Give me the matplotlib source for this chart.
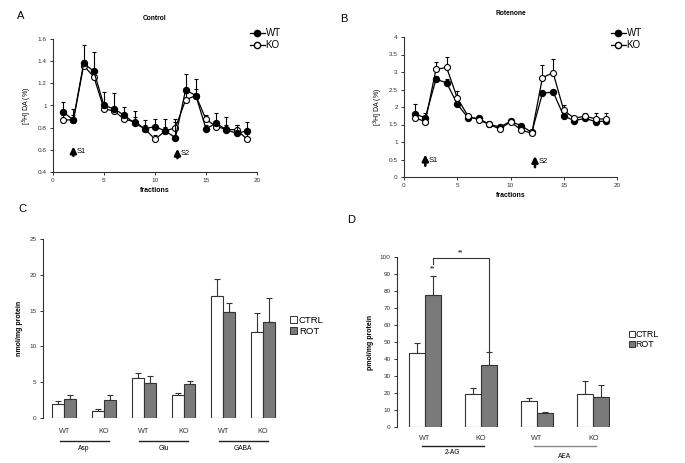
import numpy as np
import matplotlib
matplotlib.use("Agg")
import matplotlib.pyplot as plt
from matplotlib.lines import Line2D
from matplotlib.patches import Patch
import matplotlib.transforms as mtransforms

plt.rcParams['font.family'] = ['Liberation Sans', 'DejaVu Sans']

# ---------------- data ----------------
fractions = list(range(1, 20))

a_wt = [0.94, 0.87, 1.38, 1.31, 1.00, 0.97, 0.91, 0.84, 0.79, 0.81, 0.77, 0.71, 1.14, 1.09, 0.79, 0.84, 0.78, 0.75, 0.77]
a_wt_err = [0.095, 0.10, 0.17, 0.17, 0.125, 0.14, 0.08, 0.11, 0.08, 0.07, 0.11, 0.17, 0.14, 0.15, 0.03, 0.09, 0.12, 0.075, 0.085]
a_ko = [0.87, 0.87, 1.36, 1.26, 0.97, 0.95, 0.875, 0.855, 0.79, 0.695, 0.77, 0.80, 1.05, 1.09, 0.875, 0.81, 0.785, 0.78, 0.70]
a_ko_err = [0.04, 0.04, 0.05, 0.05, 0.04, 0.04, 0.04, 0.04, 0.03, 0.04, 0.04, 0.05, 0.06, 0.06, 0.04, 0.04, 0.04, 0.04, 0.04]

b_wt = [1.80, 1.695, 2.79, 2.695, 2.086, 1.695, 1.676, 1.505, 1.43, 1.59, 1.467, 1.276, 2.39, 2.43, 1.743, 1.61, 1.676, 1.58, 1.60]
b_wt_err = [0.28, 0.14, 0.10, 0.10, 0.08, 0.05, 0.05, 0.04, 0.06, 0.05, 0.06, 0.05, 0.08, 0.06, 0.05, 0.05, 0.05, 0.05, 0.05]
b_ko = [1.695, 1.58, 3.076, 3.13, 2.257, 1.75, 1.63, 1.505, 1.37, 1.58, 1.343, 1.248, 2.84, 2.98, 1.905, 1.676, 1.743, 1.657, 1.657]
b_ko_err = [0.05, 0.05, 0.20, 0.31, 0.20, 0.05, 0.05, 0.03, 0.05, 0.07, 0.05, 0.05, 0.37, 0.38, 0.16, 0.05, 0.08, 0.16, 0.16]

c_groups = ['Asp', 'Glu', 'GABA']
c_genotypes = ['WT', 'KO', 'WT', 'KO', 'WT', 'KO']
c_ctrl = [1.96, 1.02, 5.59, 3.17, 17.0, 11.96]
c_ctrl_err = [0.37, 0.24, 0.69, 0.32, 2.4, 2.71]
c_rot = [2.65, 2.51, 4.89, 4.75, 14.76, 13.4]
c_rot_err = [0.61, 0.66, 0.98, 0.37, 1.30, 3.36]

d_groups = ['2-AG', 'AEA']
d_genotypes = ['WT', 'KO', 'WT', 'KO']
d_ctrl = [43.3, 19.6, 15.5, 19.6]
d_ctrl_err = [6.3, 3.5, 1.8, 7.7]
d_rot = [77.5, 36.5, 8.4, 17.5]
d_rot_err = [11.3, 7.6, 0.6, 7.0]

W, H = 685, 463
fig = plt.figure(figsize=(W / 100, H / 100), dpi=100)


def rect(left, top, right, bottom):
    return [left / W, (H - bottom) / H, (right - left) / W, (bottom - top) / H]


TICK_FS = 4.6
LAB_FS = 5.0


def style_axes(ax, show_bottom=True):
    ax.spines['top'].set_visible(False)
    ax.spines['right'].set_visible(False)
    if not show_bottom:
        ax.spines['bottom'].set_visible(False)
    for s in ax.spines.values():
        s.set_linewidth(0.8)
        s.set_color('#333333')
    ax.tick_params(direction='out', length=2.5, width=0.7, labelsize=TICK_FS, pad=2, colors='#333333')


def line_panel(ax, x, wt, wte, ko, koe, ko_on_top):
    z_wt, z_ko = (2, 3) if ko_on_top else (3, 2)
    ax.errorbar(x, wt, yerr=[np.zeros(len(wt)), wte], fmt='-o', color='black', mfc='black', mec='black',
                ms=4.3, lw=0.9, elinewidth=0.8, capsize=1.5, capthick=0.8, zorder=z_wt)
    ax.errorbar(x, ko, yerr=[np.zeros(len(ko)), koe], fmt='-o', color='black', mfc='white', mec='black',
                ms=4.3, lw=0.9, mew=0.8, elinewidth=0.8, capsize=1.5, capthick=0.8, zorder=z_ko)
    ax.set_xlim(0, 20)
    ax.set_xticks([0, 5, 10, 15, 20])
    ax.set_xlabel('fractions', fontsize=LAB_FS, fontweight='bold', labelpad=3)
    ax.set_ylabel(r'[$^{3}$H] DA (%)', fontsize=LAB_FS, labelpad=3)
    handles = [Line2D([0], [0], marker='o', color='black', mfc='black', ms=4.5, lw=0.9),
               Line2D([0], [0], marker='o', color='black', mfc='white', ms=4.5, lw=0.9)]
    return handles


def arrow(ax, x, y0, y1, label):
    ax.annotate('', xy=(x, y1), xytext=(x, y0),
                arrowprops=dict(arrowstyle='-|>', color='black', lw=1.8, mutation_scale=9, shrinkA=0, shrinkB=0))
    ax.text(x + 0.35, (y0 + y1) / 2, label, fontsize=5.4, va='center', ha='left')


# ---------------- Panel A ----------------
axA = fig.add_axes(rect(53, 39, 257, 172))
style_axes(axA)
hA = line_panel(axA, fractions, a_wt, a_wt_err, a_ko, a_ko_err, ko_on_top=False)
axA.set_ylim(0.4, 1.6)
axA.set_yticks([0.4, 0.6, 0.8, 1.0, 1.2, 1.4, 1.6])
axA.set_yticklabels(['0.4', '0.6', '0.8', '1', '1.2', '1.4', '1.6'])
axA.set_title('Control', fontsize=4.8, fontweight='bold', pad=14)
arrow(axA, 2, 0.545, 0.63, 'S1')
arrow(axA, 12.2, 0.525, 0.61, 'S2')
fig.legend(hA, ['WT', 'KO'], loc='upper left', bbox_to_anchor=(250 / W, 1 - 28 / H), frameon=False,
           fontsize=7, handlelength=1.5, handletextpad=0.1, labelspacing=0.2, borderpad=0, borderaxespad=0)
fig.text(17 / W, 1 - 16 / H, 'A', fontsize=8, va='center', ha='left')

# ---------------- Panel B ----------------
axB = fig.add_axes(rect(404, 37, 617, 177))
style_axes(axB)
hB = line_panel(axB, fractions, b_wt, b_wt_err, b_ko, b_ko_err, ko_on_top=True)
axB.set_ylim(0, 4)
axB.set_yticks(np.arange(0, 4.01, 0.5))
axB.set_yticklabels(['0', '0.5', '1', '1.5', '2', '2.5', '3', '3.5', '4'])
axB.set_title('Rotenone', fontsize=4.8, fontweight='bold', pad=16)
arrow(axB, 2.0, 0.32, 0.64, 'S1')
arrow(axB, 12.3, 0.28, 0.60, 'S2')
fig.legend(hB, ['WT', 'KO'], loc='upper left', bbox_to_anchor=(611 / W, 1 - 28 / H), frameon=False,
           fontsize=7, handlelength=1.5, handletextpad=0.1, labelspacing=0.2, borderpad=0, borderaxespad=0)
fig.text(340 / W, 1 - 19 / H, 'B', fontsize=8, va='center', ha='left')

# ---------------- Panel C ----------------
axC = fig.add_axes(rect(43, 239, 277, 418))
style_axes(axC, show_bottom=False)
bw_c = 0.30
xc = np.arange(len(c_ctrl))
axC.bar(xc - bw_c / 2, c_ctrl, bw_c, color='white', edgecolor='#333333', lw=0.8, zorder=2)
axC.bar(xc + bw_c / 2, c_rot, bw_c, color='#7a7a7a', edgecolor='#333333', lw=0.8, zorder=2)
axC.errorbar(xc - bw_c / 2, c_ctrl, yerr=[np.zeros(len(c_ctrl)), c_ctrl_err], fmt='none', ecolor='#333333',
             elinewidth=0.8, capsize=2, capthick=0.8, zorder=1)
axC.errorbar(xc + bw_c / 2, c_rot, yerr=[np.zeros(len(c_rot)), c_rot_err], fmt='none', ecolor='#333333',
             elinewidth=0.8, capsize=2, capthick=0.8, zorder=1)
axC.set_xlim(-0.535, 5.35)
axC.set_ylim(0, 25)
axC.set_yticks(np.arange(0, 26, 5))
axC.set_xticks(xc)
axC.set_xticklabels(c_genotypes, fontsize=5.2)
axC.tick_params(axis='x', length=0, pad=7)
axC.set_ylabel('nmol/mg protein', fontsize=LAB_FS, fontweight='bold', labelpad=5)
trC = mtransforms.blended_transform_factory(axC.transData, axC.transAxes)
for i, g in enumerate(c_groups):
    cen = 2 * i + 0.5
    axC.plot([cen - 0.62, cen + 0.62], [-0.128, -0.128], color='#222222', lw=1.0, transform=trC, clip_on=False)
    axC.text(cen, -0.168, g, fontsize=4.8, ha='center', va='center', transform=trC)
legC = [Patch(facecolor='white', edgecolor='#333333', lw=0.7), Patch(facecolor='#7a7a7a', edgecolor='#333333', lw=0.7)]
fig.legend(legC, ['CTRL', 'ROT'], loc='upper left', bbox_to_anchor=(290 / W, 1 - 316 / H), frameon=False,
           fontsize=6.8, handlelength=0.7, handleheight=0.7, handletextpad=0.25, labelspacing=0.2,
           borderpad=0, borderaxespad=0)
fig.text(18 / W, 1 - 209 / H, 'C', fontsize=8, va='center', ha='left')

# ---------------- Panel D ----------------
axD = fig.add_axes(rect(397, 257, 610, 427))
style_axes(axD, show_bottom=False)
bw_d = 0.285
xd = np.arange(len(d_ctrl))
axD.bar(xd - bw_d / 2, d_ctrl, bw_d, color='white', edgecolor='#333333', lw=0.8, zorder=2)
axD.bar(xd + bw_d / 2, d_rot, bw_d, color='#7a7a7a', edgecolor='#333333', lw=0.8, zorder=2)
axD.errorbar(xd - bw_d / 2, d_ctrl, yerr=[np.zeros(len(d_ctrl)), d_ctrl_err], fmt='none', ecolor='#333333',
             elinewidth=0.8, capsize=2, capthick=0.8, zorder=1)
axD.errorbar(xd + bw_d / 2, d_rot, yerr=[np.zeros(len(d_rot)), d_rot_err], fmt='none', ecolor='#333333',
             elinewidth=0.8, capsize=2, capthick=0.8, zorder=1)
axD.set_xlim(-0.49, 3.3)
axD.set_ylim(0, 100)
axD.set_yticks(np.arange(0, 101, 10))
axD.set_xticks(xd)
axD.set_xticklabels(d_genotypes, fontsize=5.2)
axD.tick_params(axis='x', length=0, pad=6)
axD.set_ylabel('pmol/mg protein', fontsize=LAB_FS, fontweight='bold', labelpad=4)
trD = mtransforms.blended_transform_factory(axD.transData, axD.transAxes)
line_cols = ['#222222', '#888888']
for i, g in enumerate(d_groups):
    cen = 2 * i + 0.5
    axD.plot([cen - 0.55, cen + 0.55], [-0.113, -0.113], color=line_cols[i], lw=1.0, transform=trD, clip_on=False)
    axD.text(cen, -0.15 - 0.025 * i, g, fontsize=4.8, ha='center', va='center', transform=trD)
# significance bracket
x_wt_rot = 0 + bw_d / 2
x_ko_rot = 1 + bw_d / 2
axD.plot([x_wt_rot, x_wt_rot, x_ko_rot, x_ko_rot], [96, 99.3, 99.3, d_rot[1] + d_rot_err[1]],
         color='#333333', lw=0.8, clip_on=False)
axD.text((x_wt_rot + x_ko_rot) / 2, 102.5, '**', fontsize=5, ha='center', va='center')
axD.text(x_wt_rot, 93, '**', fontsize=5, ha='center', va='center')
legD = [Patch(facecolor='white', edgecolor='#333333', lw=0.7), Patch(facecolor='#7a7a7a', edgecolor='#333333', lw=0.7)]
fig.legend(legD, ['CTRL', 'ROT'], loc='upper left', bbox_to_anchor=(629 / W, 1 - 330 / H), frameon=False,
           fontsize=6.4, handlelength=0.7, handleheight=0.7, handletextpad=0.05, labelspacing=0.15,
           borderpad=0, borderaxespad=0)
fig.text(347 / W, 1 - 220 / H, 'D', fontsize=8, va='center', ha='left')

fig.savefig('out.png', dpi=100)
